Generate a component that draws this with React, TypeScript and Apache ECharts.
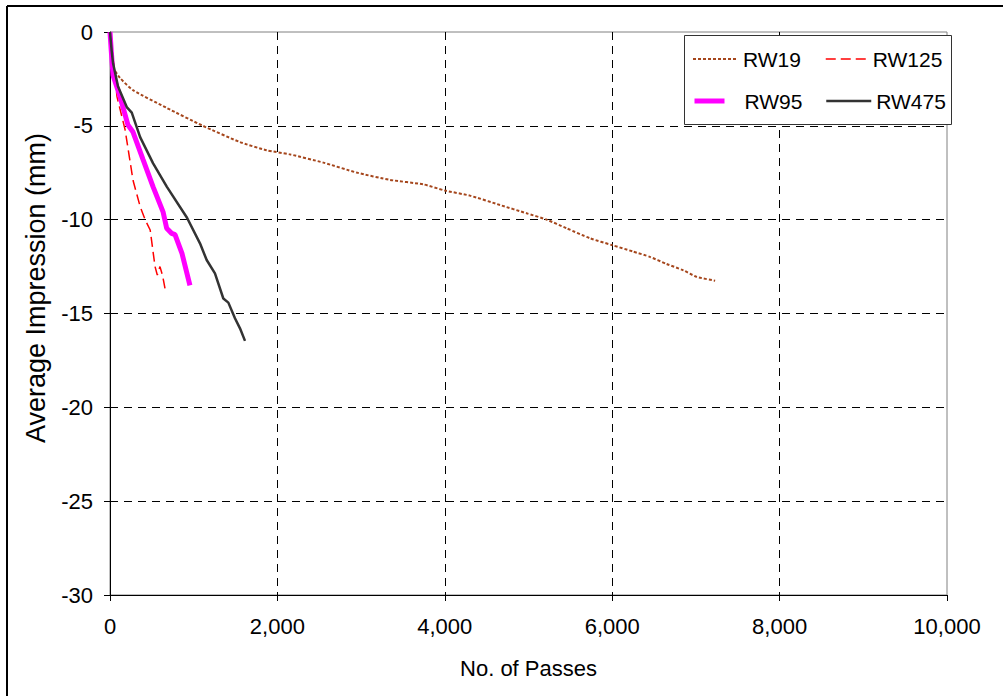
import React, { useEffect, useRef } from "react";
import * as echarts from "echarts";

const seriesNames = ["RW19", "RW125", "RW95", "RW475"];

const rw19X = [0, 20, 40, 120, 275, 680, 1110, 1550, 1870, 2150, 2549, 2947, 3345, 3744, 4002, 4301, 4659, 4978, 5217, 5456, 5735, 5994, 6250, 6450, 6650, 6850, 7010, 7230];
const rw19Y = [0, -1.0, -1.9, -2.45, -3.1, -4.05, -5.0, -5.86, -6.3, -6.52, -6.96, -7.49, -7.88, -8.12, -8.45, -8.72, -9.22, -9.66, -10.0, -10.46, -10.99, -11.35, -11.7, -11.98, -12.36, -12.7, -13.05, -13.25];

const rw125X = [0, 20, 36, 84, 180, 275, 360, 420, 480, 538, 565, 597, 629, 657];
const rw125Y = [0, -0.8, -1.33, -3.46, -5.2, -7.9, -9.3, -10.0, -10.55, -12.5, -12.95, -12.5, -13.0, -13.66];

const rw95X = [0, 15, 36, 120, 215, 275, 395, 515, 635, 677, 737, 777, 860, 955];
const rw95Y = [0, -1.0, -2.3, -3.45, -4.96, -5.33, -6.8, -8.25, -9.6, -10.46, -10.73, -10.8, -11.8, -13.5];

const rw475X = [0, 20, 36, 96, 200, 260, 360, 515, 680, 920, 1075, 1155, 1254, 1354, 1414, 1493, 1553, 1613];
const rw475Y = [0, -1.0, -1.65, -2.9, -4.0, -4.3, -5.6, -7.0, -8.25, -9.9, -11.26, -12.15, -12.86, -14.2, -14.42, -15.25, -15.79, -16.46];

const xMin = 0;
const xMax = 10000;
const xStep = 2000;
const yMin = -30;
const yMax = 0;
const yStep = 5;

const FONT = "'Liberation Sans', Arial, sans-serif";

const pairs = (xs: number[], ys: number[]) => xs.map((x, i) => [x, ys[i]]);

const styles = [
  { color: "#a5461c", width: 2, type: [3, 2] as any },
  { color: "#ff0000", width: 1.5, type: [10, 5] as any },
  { color: "#ff00ff", width: 5, type: "solid" as any },
  { color: "#333333", width: 2.5, type: "solid" as any },
];

export default function App() {
  const ref = useRef<HTMLDivElement>(null);
  useEffect(() => {
    if (!ref.current) return;
    const chart = echarts.init(ref.current, null, { renderer: "svg" });
    const legendCommon = {
      orient: "horizontal",
      padding: 0,
      itemHeight: 14,
      itemWidth: 45,
      itemStyle: { color: "transparent", borderColor: "transparent", borderWidth: 0, opacity: 0 },
      textStyle: { fontFamily: FONT, fontSize: 21, color: "#000", lineHeight: 22 },
      selectedMode: false,
      z: 10,
    };
    const legendLine = (i: number) => ({ color: styles[i].color, width: styles[i].width, type: styles[i].type });
    chart.setOption({
      animation: false,
      backgroundColor: "#fff",
      grid: {
        left: 110,
        top: 32,
        width: 837,
        height: 563,
        show: true,
        borderColor: "#808080",
        borderWidth: 1,
        backgroundColor: "transparent",
      },
      xAxis: {
        type: "value",
        min: xMin,
        max: xMax,
        interval: xStep,
        name: "No. of Passes",
        nameLocation: "middle",
        nameGap: 62,
        nameTextStyle: { fontFamily: FONT, fontSize: 22, color: "#000" },
        axisLine: { show: true, onZero: false, lineStyle: { color: "#000", width: 1 } },
        axisTick: { show: true, inside: false, length: 6, lineStyle: { color: "#000" } },
        axisLabel: {
          margin: 20,
          fontFamily: FONT,
          fontSize: 22,
          color: "#000",
          formatter: (v: number) => v.toLocaleString("en-US"),
        },
        splitLine: {
          show: true,
          showMinLine: false,
          showMaxLine: false,
          lineStyle: { color: "#000", width: 1, type: [8, 6] },
        },
      },
      yAxis: {
        type: "value",
        min: yMin,
        max: yMax,
        interval: yStep,
        axisLine: { show: true, onZero: false, lineStyle: { color: "#000", width: 1 } },
        axisTick: { show: true, inside: false, length: 6, lineStyle: { color: "#000" } },
        axisLabel: { margin: 17, fontFamily: FONT, fontSize: 22, color: "#000" },
        splitLine: {
          show: true,
          showMinLine: false,
          showMaxLine: false,
          lineStyle: { color: "#000", width: 1, type: [8, 6] },
        },
      },
      legend: [
        { ...legendCommon, data: [seriesNames[0]], left: 692, top: 48, lineStyle: legendLine(0) },
        { ...legendCommon, data: [seriesNames[1]], left: 825, top: 48, itemWidth: 42, lineStyle: legendLine(1) },
        {
          ...legendCommon,
          data: [seriesNames[2]],
          left: 692,
          top: 90,
          itemWidth: 30,
          lineStyle: legendLine(2),
          textStyle: { ...legendCommon.textStyle, padding: [0, 0, 0, 15] },
        },
        { ...legendCommon, data: [seriesNames[3]], left: 825, top: 90, lineStyle: legendLine(3) },
      ],
      graphic: [
        { type: "line", shape: { x1: 7, y1: 6, x2: 1003, y2: 6 }, style: { stroke: "#000", lineWidth: 2 }, z: 20 },
        { type: "line", shape: { x1: 7, y1: 6, x2: 7, y2: 696 }, style: { stroke: "#000", lineWidth: 2 }, z: 20 },
        {
          type: "rect",
          shape: { x: 684.5, y: 35.5, width: 267, height: 89 },
          style: { fill: "#fff", stroke: "#333", lineWidth: 1 },
          z: 5,
        },
        {
          type: "text",
          x: 36,
          y: 288,
          rotation: Math.PI / 2,
          style: {
            text: "Average Impression (mm)",
            fontFamily: FONT,
            fontSize: 27,
            fill: "#000",
            align: "center",
            verticalAlign: "middle",
          },
          z: 20,
        },
      ],
      series: seriesNames.map((name, i) => ({
        name,
        type: "line",
        data: pairs([rw19X, rw125X, rw95X, rw475X][i], [rw19Y, rw125Y, rw95Y, rw475Y][i]),
        symbol: "none",
        smooth: i === 0 ? 0.2 : false,
        lineStyle: { color: styles[i].color, width: styles[i].width, type: styles[i].type },
        itemStyle: { color: styles[i].color },
      })),
    });
    return () => chart.dispose();
  }, []);
  return (
    <div
      ref={ref}
      style={{ position: "fixed", left: 0, top: 0, width: 1003, height: 696 }}
    />
  );
}
